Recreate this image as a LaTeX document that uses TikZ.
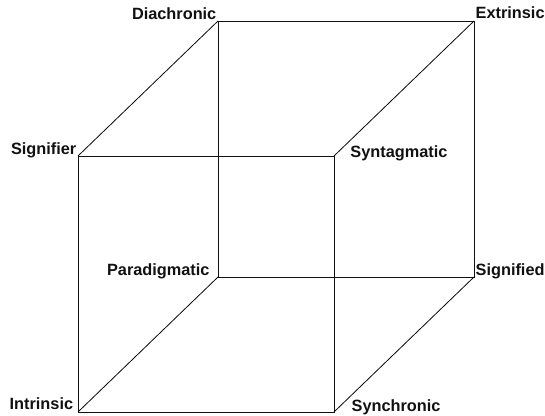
\documentclass[tikz,border=0pt]{standalone}
\usepackage{fontspec}
\setmainfont{Liberation Sans}
\usetikzlibrary{positioning,calc}
\definecolor{inkBlack}{HTML}{111111}
\tikzset{
    edge/.style={draw=inkBlack,line width=0.6pt},
    corner/.style={font=\fontsize{11.6}{14}\selectfont\bfseries,text=inkBlack,
        inner sep=1pt}
}

\begin{document}
\begin{tikzpicture}
        \useasboundingbox (0,0) rectangle (13.625,10.4);

        % front face
        \coordinate (intrinsic) at (1.95,0.10);
        \coordinate (synchronic) at (8.35,0.10);
        \coordinate (signifier) at (1.95,6.50);
        \coordinate (syntagmatic) at (8.35,6.50);
        % back face
        \coordinate (paradigmatic) at (5.45,3.475);
        \coordinate (signified) at (11.85,3.475);
        \coordinate (diachronic) at (5.45,9.875);
        \coordinate (extrinsic) at (11.85,9.875);

        \draw[edge] (intrinsic) -- (synchronic) -- (syntagmatic) -- (signifier) -- cycle;
        \draw[edge] (paradigmatic) -- (signified) -- (extrinsic) -- (diachronic) -- cycle;
        \draw[edge] (intrinsic) -- (paradigmatic);
        \draw[edge] (synchronic) -- (signified);
        \draw[edge] (signifier) -- (diachronic);
        \draw[edge] (syntagmatic) -- (extrinsic);

        \node[corner,anchor=south east] (diachronicLbl) at (diachronic) {Diachronic};
        \node[corner,anchor=base west,yshift=1.5pt] (extrinsicLbl) at (extrinsic) {Extrinsic};
        \node[corner,anchor=base east,yshift=1pt] (signifierLbl) at (signifier) {Signifier};
        \node[corner,anchor=base west,xshift=0.37cm,yshift=-1pt] (syntagmaticLbl) at (syntagmatic) {Syntagmatic};
        \node[corner,anchor=base east,xshift=-0.17cm,yshift=1pt] (paradigmaticLbl) at (paradigmatic) {Paradigmatic};
        \node[corner,anchor=base west,yshift=1pt] (signifiedLbl) at (signified) {Signified};
        \node[corner,anchor=base east,xshift=-0.08cm,yshift=1.5pt] (intrinsicLbl) at (intrinsic) {Intrinsic};
        \node[corner,anchor=base west,xshift=0.4cm] (synchronicLbl) at (synchronic) {Synchronic};
    \end{tikzpicture}
\end{document}
